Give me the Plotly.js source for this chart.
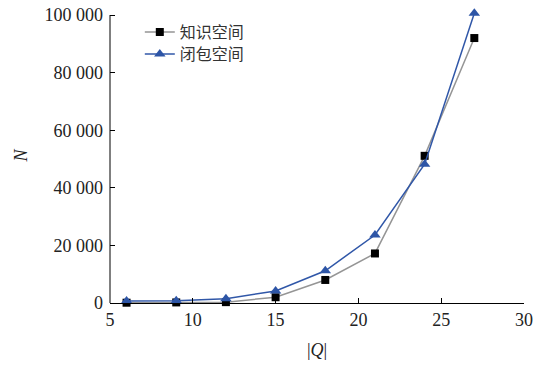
<!DOCTYPE html>
<html>
<head>
<meta charset="utf-8">
<script src="https://cdn.plot.ly/plotly-3.0.1.min.js"></script>
<style>
  html, body { margin: 0; padding: 0; background: #fff; }
  #chart { width: 537px; height: 373px; }
</style>
</head>
<body>
<div id="chart"></div>
<script>
// Query size |Q| and resulting space size N
const qSizes = [6, 9, 12, 15, 18, 21, 24, 27];
const knowledgeSpace = [100, 200, 300, 2000, 8000, 17200, 51100, 92000];
const closureSpace = [700, 800, 1500, 4200, 11200, 23600, 48200, 100600];
const seriesNames = ["知识空间", "闭包空间"];

const yTickVals = [0, 20000, 40000, 60000, 80000, 100000];
const yTickText = ["0", "20 000", "40 000", "60 000", "80 000", "100 000"];
const xTickVals = [5, 10, 15, 20, 25, 30];
const yAxisTop = 100000;

const serif = "'Liberation Serif', 'Times New Roman', serif";
const cjk = "'Noto Sans CJK SC', sans-serif";

const traces = [
  {
    x: qSizes, y: knowledgeSpace, name: seriesNames[0], legend: "legend",
    type: "scatter", mode: "lines+markers", cliponaxis: false,
    line: { color: "#959595", width: 1.5 },
    marker: { symbol: "square", size: 8, color: "#000000" }
  },
  {
    x: qSizes, y: closureSpace, name: seriesNames[1], legend: "legend2",
    type: "scatter", mode: "lines+markers", cliponaxis: false,
    line: { color: "#3057a8", width: 1.5 },
    marker: { symbol: "triangle-up", size: 10, color: "#2d55a6" }
  }
];

// one legend box per series so the two rows can sit close together
const legendStyle = (y) => ({
  x: 0.072, y: y, xanchor: "left", yanchor: "middle",
  bgcolor: "rgba(0,0,0,0)",
  font: { family: cjk, size: 16, color: "#333" },
  itemwidth: 30
});

const layout = {
  width: 537, height: 373,
  margin: { l: 110, r: 13, t: 8, b: 70 },
  paper_bgcolor: "#ffffff", plot_bgcolor: "#ffffff",
  showlegend: true,
  legend: legendStyle(0.9186),
  legend2: legendStyle(0.844),
  // vertical axis line stops at the top tick value
  shapes: [{
    type: "line", xref: "x domain", yref: "y",
    x0: 0, x1: 0, y0: 0, y1: yAxisTop,
    line: { color: "#000", width: 1 }
  }],
  xaxis: {
    range: [5, 30], tickvals: xTickVals,
    ticks: "inside", ticklen: 5, tickcolor: "#000",
    showline: true, linecolor: "#000", linewidth: 1,
    showgrid: false, zeroline: false,
    tickfont: { family: serif, size: 18, color: "#222" },
    title: { text: "|<i>Q</i>|", font: { family: serif, size: 18, color: "#222" }, standoff: 14 }
  },
  yaxis: {
    range: [0, 102430], tickvals: yTickVals, ticktext: yTickText,
    ticks: "inside", ticklen: 5, tickcolor: "#000",
    showline: false,
    showgrid: false, zeroline: false,
    tickfont: { family: serif, size: 18, color: "#222" },
    ticklabelstandoff: 6,
    title: { text: "<i>N</i>", font: { family: serif, size: 18, color: "#222" }, standoff: 12 }
  }
};

Plotly.newPlot("chart", traces, layout, { displayModeBar: false, staticPlot: true });
</script>
</body>
</html>
